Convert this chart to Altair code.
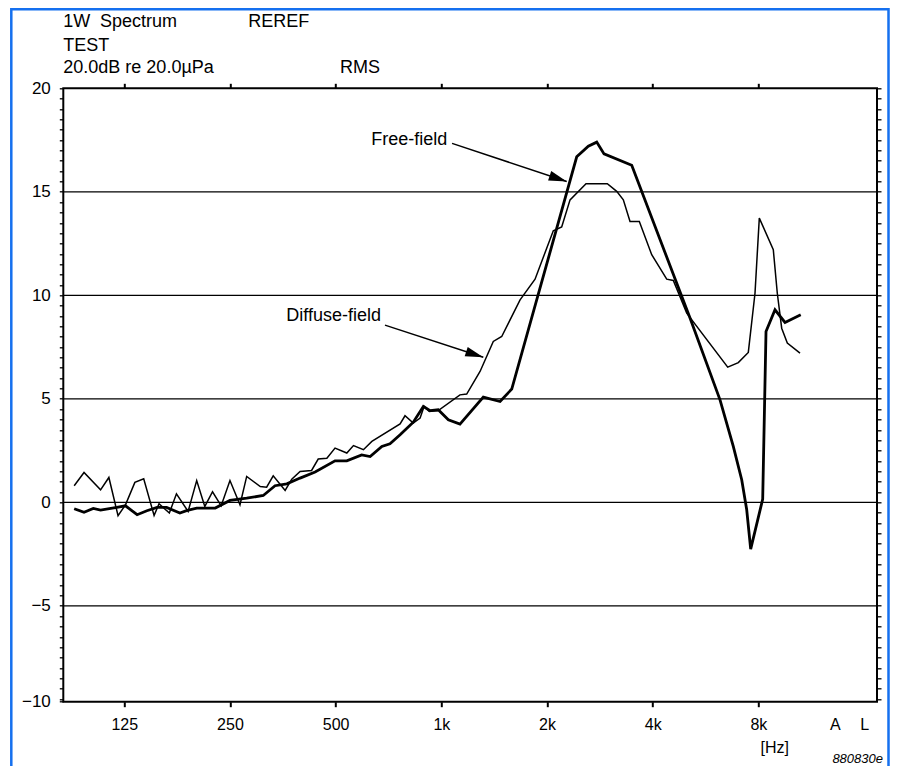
import altair as alt
import pandas as pd

# ---------------- data ----------------
# Diffuse-field response (thin line): frequency [Hz], level [dB]
thin_freq = [90, 96, 107, 113, 120, 126, 134, 142, 152, 157,
             168, 176, 190, 201, 212, 223, 236, 250, 267, 279,
             305, 318, 332, 359, 375, 396, 427, 446, 472, 498,
             538, 562, 600, 634, 763, 788, 832, 870, 893, 924,
             980, 1130, 1181, 1289, 1406, 1486, 1676, 1849, 2084, 2202,
             2326, 2583, 2970, 3159, 3299, 3447, 3664, 3974, 4385, 4579,
             5000, 6542, 7013, 7488, 7824, 8048, 8822, 9056, 9321, 9671,
             10511]
thin_db = [0.80, 1.44, 0.60, 1.20, -0.65, -0.12, 0.96, 1.14, -0.64, -0.07,
           -0.52, 0.41, -0.44, 1.05, -0.20, 0.51, -0.17, 1.05, -0.12, 1.25,
           0.76, 0.73, 1.28, 0.57, 1.12, 1.49, 1.54, 2.09, 2.13, 2.62,
           2.38, 2.74, 2.54, 2.94, 3.79, 4.18, 3.83, 4.07, 4.63, 4.39,
           4.43, 5.19, 5.23, 6.32, 7.77, 8.01, 9.78, 10.78, 13.12, 13.30,
           14.61, 15.39, 15.39, 15.02, 14.61, 13.57, 13.57, 11.96, 10.78, 10.72,
           9.14, 6.53, 6.75, 7.24, 10.10, 13.73, 12.20, 10.10, 8.41, 7.69,
           7.21]

# Free-field response (thick line)
thick_freq = [90, 96, 102, 107, 119, 126, 136, 145, 155, 165,
              180, 188, 201, 227, 250, 279, 311, 336, 363, 396,
              437, 498, 538, 593, 627, 677, 714, 763, 832, 889,
              929, 980, 1047, 1130, 1317, 1470, 1587, 2430, 2622, 2771,
              2907, 3486, 5109, 6220, 6786, 7171, 7410, 7606, 8229, 8410,
              8921, 9526, 10560]
thick_db = [-0.31, -0.48, -0.30, -0.38, -0.25, -0.17, -0.60, -0.41, -0.25, -0.25,
            -0.52, -0.40, -0.28, -0.28, 0.09, 0.20, 0.33, 0.80, 0.89, 1.17,
            1.46, 2.00, 2.00, 2.29, 2.21, 2.70, 2.83, 3.26, 3.87, 4.63,
            4.43, 4.47, 3.99, 3.78, 5.08, 4.87, 5.47, 16.69, 17.20, 17.40,
            16.83, 16.28, 8.90, 4.95, 2.70, 1.09, -0.36, -2.26, 0.15, 8.25,
            9.30, 8.69, 9.06]

grid_db = [-5, 0, 5, 10, 15]
octave_ticks = [125, 250, 500, 1000, 2000, 4000, 8000]
octave_labels = ["125", "250", "500", "1k", "2k", "4k", "8k"]
total_labels = ["A", "L"]
total_pos = [13200, 16000]
y_labels = [20, 15, 10, 5, 0, -5, -10]

# annotations: label, text anchor (Hz, dB), arrow start, arrow tip
ann_text = ["Free-field", "Diffuse-field"]
ann_text_f = [1040, 673]
ann_text_db = [17.5, 9.0]
ann_from_f = [1073, 691]
ann_from_db = [17.34, 8.56]
ann_to_f = [2276, 1317]
ann_to_db = [15.50, 7.01]
ann_angle = [18.4, 18.0]

# ---------------- layout ----------------
W, H = 813.7, 613.4
Y_MIN = -9.633
FONT = "Liberation Sans"

xscale = alt.Scale(type="log", domain=[83.8, 17415], nice=False)
yscale = alt.Scale(domain=[Y_MIN, 20], nice=False, zero=False)

minor = [-9.5 + 0.5 * i for i in range(60)]
y_values = [Y_MIN] + minor

x_vals = octave_ticks + total_pos
x_label_expr = " : ".join(
    [f"datum.value == {v} ? '{t}'" for v, t in zip(x_vals, octave_labels + total_labels)]
) + " : ''"

y_label_expr = (f"datum.value < -9.6 ? '\u221210' : "
                "(datum.value % 5 == 0 ? format(datum.value, 'd') : '')")

bottom_axis = alt.Axis(
    orient="bottom", values=x_vals, labelExpr=x_label_expr, title=None,
    domain=False, grid=False, tickSize=5, tickWidth=2, tickColor="black",
    tickOpacity={"condition": {"test": "datum.value > 10000", "value": 0}, "value": 1},
    labelFont=FONT, labelFontSize=16, labelColor="black", labelPadding=10,
    labelOverlap=False, labelFlush=False,
)
top_axis = alt.Axis(
    orient="top", values=octave_ticks, labels=False, title=None,
    domain=False, grid=False, tickSize=5, tickWidth=2, tickColor="black",
)
left_axis = alt.Axis(
    orient="left", values=y_values, labelExpr=y_label_expr, title=None,
    domain=False, grid=False, tickSize=4, tickWidth=1.3, tickColor="black",
    labelFont=FONT, labelFontSize=17, labelColor="black", labelPadding=9,
    labelOverlap=False, labelFlush=False, labelBaseline="middle",
)
right_axis = alt.Axis(
    orient="right", values=minor, labels=False, title=None,
    domain=False, grid=False, tickSize=4, tickWidth=1.3, tickColor="black",
)

thin_df = pd.DataFrame({"freq": thin_freq, "db": thin_db})
thick_df = pd.DataFrame({"freq": thick_freq, "db": thick_db})
grid_df = pd.DataFrame({"db": grid_db})
ann_df = pd.DataFrame({
    "label": ann_text, "tf": ann_text_f, "tdb": ann_text_db,
    "f0": ann_from_f, "d0": ann_from_db, "f1": ann_to_f, "d1": ann_to_db,
    "ang": ann_angle,
})

grid = alt.Chart(grid_df).mark_rule(color="black", strokeWidth=1.3).encode(
    y=alt.Y("db:Q", scale=yscale, axis=None)
)

thin = alt.Chart(thin_df).mark_line(color="black", strokeWidth=1.5).encode(
    x=alt.X("freq:Q", scale=xscale, axis=bottom_axis),
    y=alt.Y("db:Q", scale=yscale, axis=left_axis),
)

thick = alt.Chart(thick_df).mark_line(color="black", strokeWidth=2.8).encode(
    x=alt.X("freq:Q", scale=xscale, axis=top_axis),
    y=alt.Y("db:Q", scale=yscale, axis=right_axis),
)

ann_label = alt.Chart(ann_df).mark_text(
    align="right", baseline="middle", font=FONT, fontSize=18, color="black"
).encode(
    x=alt.X("tf:Q", scale=xscale, axis=None),
    y=alt.Y("tdb:Q", scale=yscale, axis=None),
    text="label:N",
)
ann_line = alt.Chart(ann_df).mark_rule(color="black", strokeWidth=1.5).encode(
    x=alt.X("f0:Q", scale=xscale, axis=None),
    y=alt.Y("d0:Q", scale=yscale, axis=None),
    x2="f1:Q", y2="d1:Q",
)
ann_head = alt.Chart(ann_df).mark_point(
    shape="M 0 0 L -2 -0.55 L -2 0.55 Z", size=324, filled=True,
    color="black", opacity=1,
).encode(
    x=alt.X("f1:Q", scale=xscale, axis=None),
    y=alt.Y("d1:Q", scale=yscale, axis=None),
    angle=alt.Angle("ang:Q", scale=None),
)

one = pd.DataFrame({"k": [0]})


def label(text, px, py, size=18, align="left", style="normal"):
    return alt.Chart(one).mark_text(
        text=text, align=align, baseline="alphabetic", font=FONT,
        fontSize=size, fontStyle=style, color="black",
    ).encode(x=alt.value(px), y=alt.value(py))


headers = [
    label("1W", 0, -61),
    label("Spectrum", 36.7, -61),
    label("REREF", 185, -61),
    label("TEST", 0, -37.6),
    label("20.0dB re 20.0\u00b5Pa", 0, -15),
    label("RMS", 276.7, -15),
    label("[Hz]", 711.4, 665, size=16, align="center"),
    label("880830e", 819.7, 674.5, size=13, align="right", style="italic"),
]

frame = alt.Chart(one).mark_rect(
    fill="transparent", stroke="#1570ef", strokeWidth=2.5
).encode(
    x=alt.value(-52), x2=alt.value(825.2), y=alt.value(-79.1), y2=alt.value(700)
)

chart = alt.layer(
    grid, thin, thick, ann_line, ann_head, ann_label, *headers, frame
).resolve_axis(
    x="independent", y="independent"
).properties(
    width=W, height=H,
    autosize=alt.AutoSizeParams(type="none"),
    padding={"left": 55.3, "top": 80.3, "right": 13.0, "bottom": 64.3},
    background="white",
).configure_view(
    stroke="black", strokeWidth=2
)

chart.save("out.html", embed_options={"renderer": "svg", "actions": False})
